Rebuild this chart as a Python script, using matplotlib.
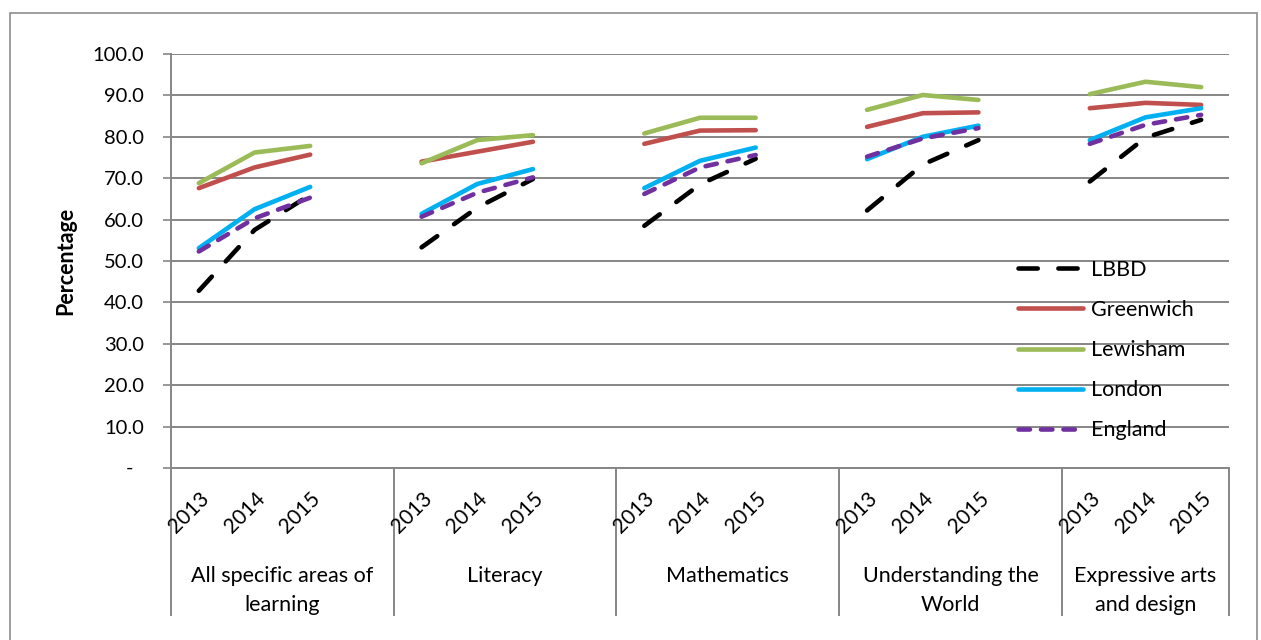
import matplotlib
matplotlib.use("Agg")
import matplotlib.pyplot as plt
from matplotlib.patches import Rectangle
from matplotlib.ticker import FixedLocator, FuncFormatter
import matplotlib.transforms as mtransforms

plt.rcParams['font.family'] = ['Lato', 'DejaVu Sans']

# Early years learning outcomes, percentage achieving expected level
areas = ["All specific areas of\nlearning", "Literacy", "Mathematics",
         "Understanding the\nWorld", "Expressive arts\nand design"]
years = ["2013", "2014", "2015"]

lbbd      = [42.8, 57.5, 66.0,  53.3, 62.9, 69.8,  58.5, 68.5, 74.7,  62.2, 73.3, 79.2,  69.2, 79.8, 84.1]
greenwich = [67.6, 72.6, 75.7,  74.0, 76.4, 78.8,  78.3, 81.5, 81.6,  82.4, 85.7, 85.9,  86.9, 88.2, 87.7]
lewisham  = [68.8, 76.2, 77.8,  73.6, 79.2, 80.4,  80.8, 84.6, 84.6,  86.5, 90.1, 88.9,  90.3, 93.3, 92.0]
london    = [53.1, 62.5, 67.9,  61.4, 68.6, 72.2,  67.6, 74.2, 77.4,  74.6, 80.0, 82.7,  79.2, 84.7, 86.9]
england   = [52.3, 60.3, 65.3,  60.7, 66.5, 70.2,  66.2, 72.6, 75.6,  75.2, 79.6, 82.1,  78.3, 82.9, 85.3]

series = [
    ("LBBD", lbbd, dict(color="black", dashes=(4.2, 4.5))),
    ("Greenwich", greenwich, dict(color="#C0504D")),
    ("Lewisham", lewisham, dict(color="#9BBB59")),
    ("London", london, dict(color="#00B0F0")),
    ("England", england, dict(color="#7030A0", dashes=(2.5, 2.4))),
]

W, H = 1261, 640
fig = plt.figure(figsize=(W / 100, H / 100), dpi=100)

# outer chart border
fig.patches.append(Rectangle((10 / W, -0.05), (1257 - 10) / W, 1 - 13 / H + 0.05,
                             transform=fig.transFigure, fill=False,
                             edgecolor="#8c8c8c", linewidth=1.2))

x0, x1, ytop, ybot = 171, 1229, 54, 468
ax = fig.add_axes([x0 / W, 1 - ybot / H, (x1 - x0) / W, (ybot - ytop) / H])

# category slots: each area takes 3 year slots plus one blank slot (except the last)
slots_per_group = 4
n_slots = slots_per_group * (len(areas) - 1) + len(years)
ax.set_xlim(0, n_slots)
ax.set_ylim(0, 100)

grid_col = "#868686"
for name, vals, st in series:
    for g in range(len(areas)):
        xs = [g * slots_per_group + i + 0.5 for i in range(len(years))]
        ys = vals[g * 3:(g + 1) * 3]
        kw = dict(color=st["color"], lw=3.3, solid_capstyle="round",
                  dash_capstyle="round")
        if "dashes" in st:
            kw["dashes"] = st["dashes"]
        ax.plot(xs, ys, label=name if g == 0 else None, **kw)

# y axis
ax.yaxis.set_major_locator(FixedLocator(range(0, 101, 10)))
ax.yaxis.set_major_formatter(FuncFormatter(lambda v, p: "" if v == 0 else f"{v:.1f}"))
ax.grid(axis="y", color=grid_col, lw=1.4)
ax.set_axisbelow(True)
ax.tick_params(axis="y", length=5.5, width=1.2, color=grid_col, pad=14, labelsize=14.5,
               labelcolor="black")
ax.text(-0.0388, 0, "-", transform=ax.get_yaxis_transform(), ha="center", va="center",
        fontsize=14.5)
ax.text(-(x0 - 66) / (x1 - x0), 0.5, "Percentage", transform=ax.transAxes,
        rotation=90, ha="center", va="center", fontsize=15.5, fontweight="bold")

# x axis: hide standard ticks, draw two-level category labels
ax.set_xticks([])
for s in ["top", "right"]:
    ax.spines[s].set_visible(False)
ax.spines["bottom"].set_color(grid_col)
ax.spines["bottom"].set_linewidth(1.4)
ax.spines["left"].set_visible(False)

trans = mtransforms.blended_transform_factory(ax.transData, ax.transAxes)
low = -(615 - ybot) / (ybot - ytop)
bounds = [g * slots_per_group for g in range(len(areas))] + [n_slots]
for b in bounds:
    top = 1.0 if b == 0 else 0.0
    ax.plot([b, b], [low, top], transform=trans, color=grid_col, lw=1.4,
            clip_on=False, zorder=0.5)

off = -10 / ((x1 - x0) / n_slots)
ymid = -(513 - ybot) / (ybot - ytop)
ylab = -(566 - ybot) / (ybot - ytop)
for g, area in enumerate(areas):
    for i, yr in enumerate(years):
        ax.text(g * slots_per_group + i + 0.5 + off, ymid, yr, transform=trans,
                rotation=45, ha="center", va="center", fontsize=15)
    cx = (bounds[g] + bounds[g + 1]) / 2
    ax.text(cx, ylab, area, transform=trans, ha="center", va="top",
            fontsize=15.5, linespacing=1.55)

leg = ax.legend(loc="upper left",
                bbox_to_anchor=((1018 - x0) / (x1 - x0), (ybot - 260) / (ybot - ytop)),
                frameon=False, fontsize=15.5, handlelength=3.0, handletextpad=0.38,
                labelspacing=0.93, borderaxespad=0, borderpad=0)

fig.savefig("out.png", dpi=100, facecolor="white")
